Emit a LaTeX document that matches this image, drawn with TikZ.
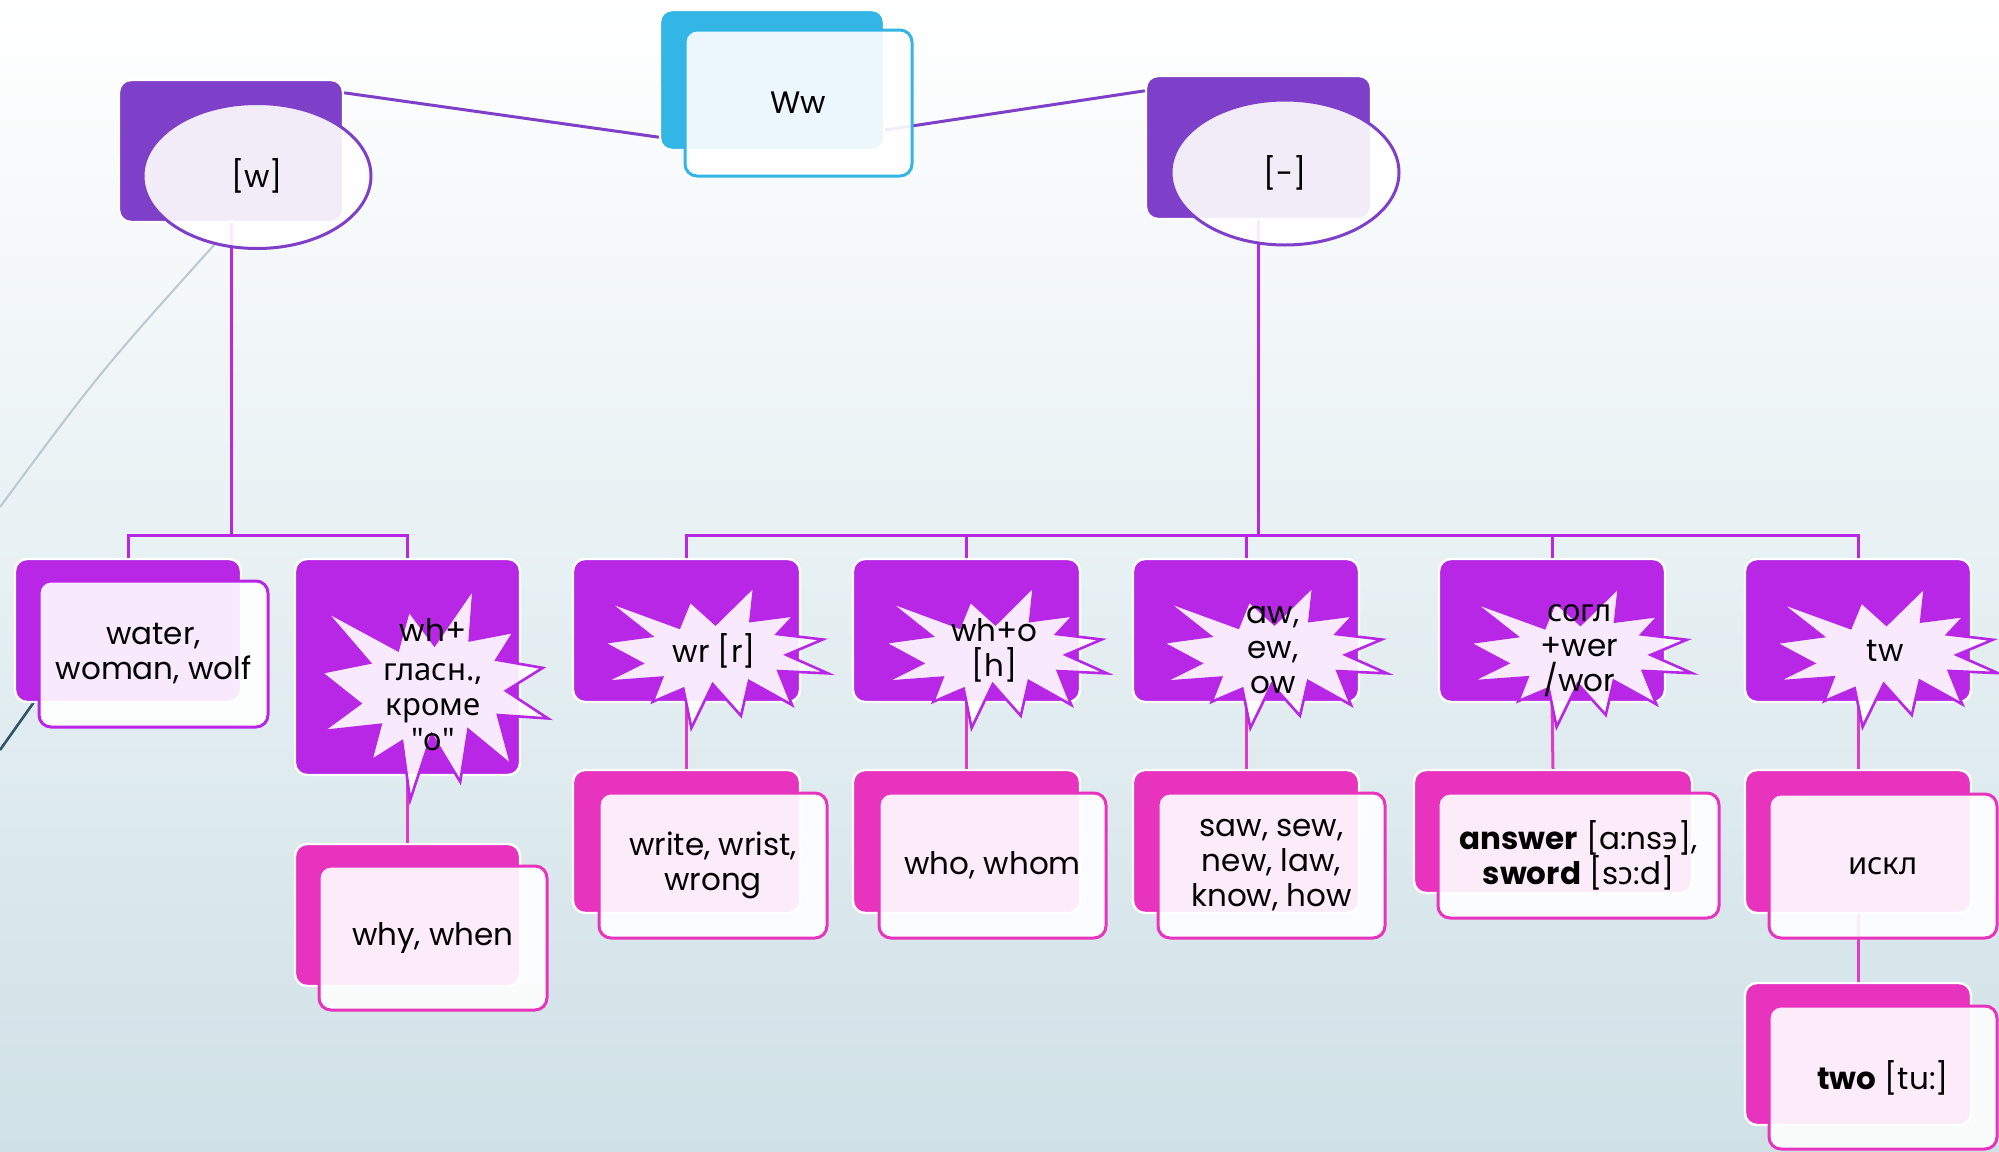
\documentclass[tikz,border=0pt]{standalone}
\usepackage{fontspec}
\setmainfont{Poppins}
\newfontfamily\cyrf{Noto Sans}
\usetikzlibrary{shapes.geometric}
\definecolor{purpA}{HTML}{7E3FC9}
\definecolor{cyanA}{HTML}{33B5E5}
\definecolor{violA}{HTML}{B826E6}
\definecolor{magA}{HTML}{E833BE}
\definecolor{dropC}{HTML}{DF3AC9}
\definecolor{bgTop}{HTML}{FFFFFF}
\definecolor{bgBot}{HTML}{CFE1E7}
\definecolor{darkL}{HTML}{2E5668}
\definecolor{grayL}{HTML}{B9C9CF}
\newcommand\lblf{\fontsize{15.5pt}{17.5pt}\selectfont}
\tikzset{
 bkbox/.style={rectangle, rounded corners=6pt, draw=white, line width=1.2pt, fill=#1, inner sep=0pt},
 frbox/.style={rectangle, rounded corners=6pt, draw=#1, line width=1.5pt, fill=white, fill opacity=0.9, text opacity=1, inner sep=0pt, align=center, font=\lblf},
 ellp/.style={ellipse, draw=purpA, line width=1.5pt, fill=white, fill opacity=0.9, text opacity=1, minimum width=114pt, minimum height=72.5pt, inner sep=0pt, font=\lblf},
 brst/.style={draw=violA, line width=1.3pt, fill=white, fill opacity=0.9, line join=miter},
 lbltxt/.style={inner sep=0pt, align=center, font=\lblf},
 contop/.style={draw=purpA, line width=1.5pt},
 busln/.style={draw=violA, line width=1.5pt},
 dropln/.style={draw=dropC, line width=1.5pt}
}
\newcommand\mkbox[7]{\node[#6, minimum width={(#4-#2)*0.5pt}, minimum height={(#5-#3)*0.5pt}] (#1) at ({(#2+#4)/2},{(#3+#5)/2}) {#7};}
\newcommand\mkburst[6]{%
\begin{scope}[shift={(#2,#3)},xscale=#4/100,yscale=#5/100]
\draw[brst] (50,26.85) -- (67.23,0) -- (65.53,24.65) -- (85.09,20.63) -- (77.32,33.87) -- (97.67,37.67) -- (81.51,48.50) -- (100,61.53) -- (77.95,59.92) -- (84.00,83.77) -- (64.91,66.93) -- (61.33,91.38) -- (48.76,69.14) -- (39.28,100) -- (35.72,72.35) -- (22.05,81.56) -- (26.24,64.52) -- (0.63,67.53) -- (17.23,54.51) -- (0,39.88) -- (21.42,35.26) -- (1.71,10.63) -- (33.85,29.26) -- (38.67,10.63) -- cycle;
\end{scope}
\node[lbltxt] (#1) at ({#2+0.494*#4},{#3+0.454*#5}) {#6};}
\begin{document}
\begin{tikzpicture}[x=0.5pt,y=-0.5pt]
\useasboundingbox (0,0) rectangle (1999,1152);
\shade[top color=bgTop, bottom color=bgBot] (0,0) rectangle (1999,1152);
% background decoration
\draw[grayL, line width=1pt] (214,245) .. controls (100,372) .. (0,507);
\draw[darkL, line width=1.3pt] (34,702) -- (0,750);
% top level back boxes
\mkbox{wB}{119}{80}{343}{222}{bkbox=purpA}{}
\mkbox{wwB}{660}{10}{884}{150}{bkbox=cyanA}{}
\mkbox{mB}{1146}{76}{1371}{219}{bkbox=purpA}{}
% top connectors
\draw[contop] ([yshift=-7pt]wB.north east) -- ([yshift=7pt]wwB.south west);
\draw[contop] ([yshift=-25pt]wwB.east) -- ([yshift=-8pt]mB.north west);
% level 1 back boxes
\mkbox{c1B}{15}{559}{241}{702}{bkbox=violA}{}
\mkbox{c2B}{295}{559}{520}{775}{bkbox=violA}{}
\mkbox{c3B}{573}{559}{800}{702}{bkbox=violA}{}
\mkbox{c4B}{853}{559}{1080}{702}{bkbox=violA}{}
\mkbox{c5B}{1133}{559}{1359}{702}{bkbox=violA}{}
\mkbox{c6B}{1439}{559}{1665}{702}{bkbox=violA}{}
\mkbox{c7B}{1745}{559}{1971}{702}{bkbox=violA}{}
% level 2 back boxes
\mkbox{d2B}{295}{844}{520}{986}{bkbox=magA}{}
\mkbox{d3B}{573}{770}{800}{913}{bkbox=magA}{}
\mkbox{d4B}{853}{770}{1080}{913}{bkbox=magA}{}
\mkbox{d5B}{1133}{770}{1359}{913}{bkbox=magA}{}
\mkbox{d6B}{1414}{770}{1692}{893}{bkbox=magA}{}
\mkbox{d7B}{1745}{770}{1971}{913}{bkbox=magA}{}
\mkbox{e7B}{1745}{983}{1971}{1125}{bkbox=magA}{}
% buses
\coordinate (busw) at (231,535);
\coordinate (busm) at (1258.5,535);
\draw[busln] (wB.south) -- (busw);
\draw[busln] (c1B.north) |- (busw);
\draw[busln] (c2B.north) |- (busw);
\draw[busln] (mB.south) -- (busm);
\foreach \c in {c3B,c4B,c5B,c6B,c7B} {\draw[busln] (\c.north) |- (busm);}
% drops
\draw[dropln] (c2B.south) -- (d2B.north);
\draw[dropln] (c3B.south) -- (d3B.north);
\draw[dropln] (c4B.south) -- (d4B.north);
\draw[dropln] (c5B.south) -- (d5B.north);
\draw[dropln] (c6B.south) -- (d6B.north);
\draw[dropln] (c7B.south) -- (d7B.north);
\draw[dropln] (d7B.south) -- (e7B.north);
% top level fronts
\node[ellp] (wE) at (257,176) {[w]};
\node[ellp] (mE) at (1285,172.5) {[-]};
\mkbox{wwF}{685}{30}{912}{176}{frbox=cyanA}{Ww}
% level 1 fronts
\mkbox{c1F}{39}{581}{268}{727}{frbox=violA}{water,\\woman, wolf}
\mkburst{c2S}{321}{588}{227}{212}{wh+\\[2pt]{\cyrf гласн.,}\\{\cyrf кроме}\\{\cyrf "о"}}
\mkburst{c3S}{603}{586}{225}{142}{wr [r]}
\mkburst{c4S}{884}{586}{223}{142}{wh+o\\{[h]}}
\mkburst{c5S}{1162}{586}{225}{142}{aw,\\ew,\\ow}
\mkburst{c6S}{1469}{587}{223}{140}{{\cyrf согл}\\+wer\\/wor}
\mkburst{c7S}{1775}{587}{223}{140}{tw}
% level 2 fronts
\mkbox{d2F}{319}{866}{547}{1010}{frbox=magA}{why, when}
\mkbox{d3F}{599}{793}{827}{938}{frbox=magA}{write, wrist,\\wrong}
\mkbox{d4F}{879}{793}{1106}{938}{frbox=magA}{who, whom}
\mkbox{d5F}{1158}{793}{1385}{938}{frbox=magA}{saw, sew,\\new, law,\\know, how}
\mkbox{d6F}{1438}{793}{1719}{918}{frbox=magA}{\textbf{answer} [a:ns{\cyrf э}],\\\textbf{sword} [s{\cyrf ɔ}:d]}
\mkbox{d7F}{1769}{794}{1997}{938}{frbox=magA}{{\cyrf искл}}
\mkbox{e7F}{1769}{1006}{1997}{1149}{frbox=magA}{\textbf{two} [tu:]}
\end{tikzpicture}
\end{document}
